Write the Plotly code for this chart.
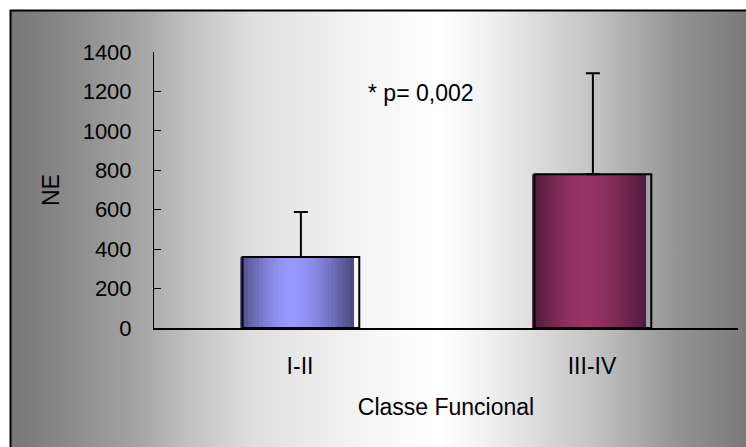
import base64
import plotly.graph_objects as go

# ---- data ----
categories = ["I-II", "III-IV"]
means = [360, 780]
sd_upper = [228, 512]
x_title = "Classe Funcional"
y_title = "NE"
annotation_text = "* p= 0,002"

# ---- styling helpers ----
def hex2rgb(h):
    h = h.lstrip("#")
    return tuple(int(h[i:i + 2], 16) for i in (0, 2, 4))

def mix(c1, c2, w):
    a, b = hex2rgb(c1), hex2rgb(c2)
    return "rgb(%d,%d,%d)" % tuple(round(a[i] + (b[i] - a[i]) * w) for i in range(3))

edge_cols = [("#4b4b80", "#47477a"), ("#4a1a35", "#4e1c3a")]
center_cols = ["#9999ff", "#993366"]

N = 30
bar_w = 0.39
bar_off = -0.205
peak = 0.45

fig = go.Figure()
for k in range(N):
    t = (k + 0.5) / N
    if t < peak:
        d = (peak - t) / peak
        side = 0
    else:
        d = (t - peak) / (1 - peak)
        side = 1
    w = 1 - d ** 1.6
    cols = [mix(edge_cols[i][side], center_cols[i], w) for i in range(len(categories))]
    strip_w = bar_w / N * (2.0 if k < N - 1 else 1.0)
    fig.add_trace(go.Bar(
        x=categories, y=means,
        width=strip_w,
        offset=bar_off + k * bar_w / N,
        marker=dict(color=cols, line=dict(width=0)),
        hoverinfo="skip", showlegend=False,
    ))

# outline + error bars
fig.add_trace(go.Bar(
    x=categories, y=means,
    width=0.40, offset=-0.197,
    marker=dict(color="rgba(0,0,0,0)", line=dict(color="black", width=2)),
    error_y=dict(type="data", symmetric=False, array=sd_upper,
                 arrayminus=[0] * len(means), color="black", thickness=2, width=7),
    hoverinfo="skip", showlegend=False,
))

# background gradient (SVG image)
stops = [(10, "#767676"), (80, "#8e8e8e"), (150, "#aaaaaa"), (180, "#bdbdbd"),
         (250, "#dedede"), (380, "#f8f8f8"), (440, "#ffffff"), (500, "#ececec"),
         (600, "#c0c0c0"), (680, "#929292"), (746, "#7a7a7a")]
x0, x1 = 10, 746
stop_xml = "".join('<stop offset="%.4f" stop-color="%s"/>' % ((px - x0) / (x1 - x0), c)
                   for px, c in stops)
svg = ('<svg xmlns="http://www.w3.org/2000/svg" width="736" height="437" '
       'preserveAspectRatio="none" viewBox="0 0 736 437">'
       '<defs><linearGradient id="g" x1="0" y1="0" x2="1" y2="0">' + stop_xml +
       '</linearGradient></defs><rect width="736" height="437" fill="url(#g)"/></svg>')
src = "data:image/svg+xml;base64," + base64.b64encode(svg.encode()).decode()

L, R, T, B = 154, 738, 52, 328
W, H = R - L, B - T
def px(x): return (x - L) / W
def py(y): return (B - y) / H

fig.add_layout_image(dict(
    source=src, xref="paper", yref="paper",
    x=px(10), y=py(10), sizex=px(746) - px(10), sizey=py(10) - py(447),
    sizing="stretch", layer="below", xanchor="left", yanchor="top",
))
fig.add_shape(type="rect", xref="paper", yref="paper",
              x0=px(10.5), x1=px(760), y0=py(460), y1=py(10.5),
              line=dict(color="black", width=2), layer="above")

font = dict(family="Arial, Liberation Sans, sans-serif", size=23, color="black")
ytick_font = dict(family="Arial, Liberation Sans, sans-serif", size=22, color="black")

fig.add_annotation(text=annotation_text, xref="paper", yref="paper",
                   x=px(421), y=py(93), xanchor="center", yanchor="middle",
                   showarrow=False, font=font)

fig.update_layout(
    width=746, height=447,
    margin=dict(l=L, r=746 - R, t=T, b=447 - B),
    paper_bgcolor="white", plot_bgcolor="rgba(0,0,0,0)",
    barmode="overlay", showlegend=False, font=font,
    xaxis=dict(range=[-0.5, 1.5], showline=True, linecolor="black", linewidth=1.5,
               ticks="", showgrid=False, zeroline=False, tickfont=font,
               ticklabelstandoff=17,
               title=dict(text=x_title, font=font, standoff=21)),
    yaxis=dict(range=[0, 1400], dtick=200, showline=True, linecolor="black", linewidth=1,
               ticks="inside", ticklen=7, tickcolor="black", showgrid=False,
               zeroline=False, tickfont=ytick_font, ticklabelstandoff=17,
               title=dict(text=y_title, font=font, standoff=16)),
)

fig.write_html("out.html", config={"displayModeBar": False},
               post_script="document.body.style.margin='0';document.body.style.padding='0';")
